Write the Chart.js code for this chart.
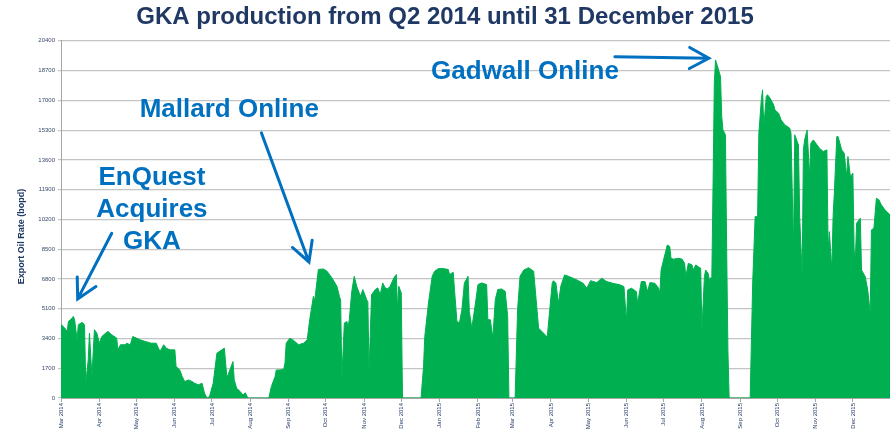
<!DOCTYPE html>
<html>
<head>
<meta charset="utf-8">
<script src="https://cdn.jsdelivr.net/npm/chart.js@4"></script>
<style>
  body { margin: 0; background: #ffffff; }
  canvas { display: block; }
</style>
</head>
<body>
<canvas id="graficaGKA" width="890" height="431"></canvas>
<script>
// dias desde 1 Mar 2014 y tasa de exportacion (bopd)
var dias = [0, 3, 5, 6, 9, 10, 11, 13, 14, 17, 19, 20, 22, 23, 25, 27, 29, 31, 33, 36, 38, 41, 45, 46, 48, 52, 53, 56, 58, 61,
  64, 68, 73, 77, 80, 83, 85, 88, 92, 93, 96, 98, 100, 103, 106, 108, 111, 114, 116, 118, 120, 123, 126, 130, 132, 134, 135, 139, 140, 142,
  145, 147, 149, 151, 168, 170, 173, 174, 177, 180, 181, 182, 185, 188, 192, 196, 199, 201, 204, 205, 208, 212, 215, 219, 223, 225, 226, 227, 229, 231,
  232, 233, 235, 237, 239, 242, 244, 247, 248, 249, 251, 254, 256, 258, 260, 262, 264, 266, 269, 271, 272, 273, 275, 276, 291, 293, 294, 297, 300, 302,
  305, 309, 313, 314, 317, 318, 320, 322, 324, 326, 329, 330, 332, 335, 337, 340, 344, 345, 347, 349, 351, 353, 356, 359, 361, 362, 367, 369, 371, 374,
  378, 382, 384, 386, 390, 393, 395, 397, 398, 400, 402, 404, 407, 411, 417, 422, 425, 428, 433, 437, 441, 446, 452, 455, 457, 458, 461, 465, 466, 469,
  472, 474, 476, 480, 483, 484, 485, 488, 490, 492, 493, 495, 499, 502, 504, 505, 507, 510, 511, 513, 515, 517, 518, 520, 521, 523, 524, 526, 527, 528,
  529, 531, 533, 534, 535, 537, 538, 539, 540, 557, 559, 561, 563, 564, 566, 567, 568, 570, 571, 573, 576, 577, 580, 582, 585, 589, 590, 592, 593, 595,
  596, 597, 599, 600, 601, 603, 605, 606, 608, 611, 613, 616, 619, 620, 621, 623, 624, 625, 627, 628, 631, 633, 635, 636, 638, 640, 641, 642, 643, 646,
  647, 650, 652, 654, 655, 657, 659, 661, 663, 666, 670];
var tasas = [4200, 4000, 3800, 4370, 4560, 4660, 4470, 3320, 4180, 4320, 4180, 840, 2180, 3700, 1220, 3900, 3700, 3130, 3510, 3700, 3800, 3610, 3420, 2750, 3040, 3040, 3130, 3040, 3510, 3420,
  3320, 3230, 3130, 3130, 2650, 3040, 2850, 2750, 2750, 1800, 1600, 1220, 940, 1030, 940, 840, 750, 840, 270, 0, 80, 840, 2560, 2750, 2850, 1220, 1320, 2080, 1030, 550,
  360, 170, 300, 0, 0, 650, 1220, 1600, 1600, 1640, 1990, 3130, 3420, 3290, 3040, 3130, 3320, 4470, 5810, 5520, 7340, 7370, 7240, 6860, 6380, 5810, 5600, 1130, 4280, 4370,
  4090, 4470, 6090, 6950, 6380, 5810, 6190, 5620, 5500, 1510, 5900, 6190, 6290, 5900, 6570, 6290, 6230, 6380, 6860, 7050, 5040, 6380, 6000, 0, 0, 1800, 3510, 5420, 6950, 7240,
  7390, 7390, 7340, 7050, 7180, 6190, 4370, 4280, 5040, 6570, 6950, 4950, 3990, 5420, 6480, 6570, 6480, 4470, 4470, 3420, 5620, 6190, 6230, 6090, 4660, 0, 0, 5040, 6950, 7310,
  7440, 7240, 5620, 3990, 3700, 3480, 5040, 6570, 6700, 6550, 5410, 6400, 7030, 6930, 6740, 6550, 6270, 6700, 6590, 6840, 6650, 6550, 6460, 6360, 4360, 6170, 6270, 6080, 5410, 6650,
  6650, 6080, 6590, 6550, 6270, 5980, 7310, 8170, 8740, 8650, 7980, 7930, 7980, 7930, 7690, 6930, 7690, 7600, 7310, 7600, 7500, 7410, 3890, 6930, 7310, 7120, 6750, 6930, 12270, 17980,
  19310, 18840, 18360, 16070, 15310, 15030, 8460, 2740, 0, 0, 6550, 10360, 10360, 15120, 17030, 17600, 15500, 17220, 17320, 17130, 16740, 16450, 16260, 15880, 15600, 15410, 15120, 8460, 15030, 14650,
  14460, 10360, 7000, 14170, 14740, 15310, 12650, 14550, 14740, 14460, 14260, 14080, 14170, 8460, 9500, 7310, 10360, 11700, 14930, 14930, 14170, 13980, 12650, 13790, 12650, 12840, 8460, 7880, 9980, 10270,
  7310, 6930, 6170, 4840, 9600, 9700, 11410, 11320, 11030, 10740, 10460];

// inicio de cada mes (dias) y sus etiquetas
var diasMes = [0, 31, 61, 92, 122, 153, 184, 214, 245, 275, 306, 337, 365, 396, 426, 457, 487, 518, 549, 579, 610, 640];
var etiquetasMes = ['Mar 2014', 'Apr 2014', 'May 2014', 'Jun 2014', 'Jul 2014', 'Aug 2014', 'Sep 2014', 'Oct 2014', 'Nov 2014', 'Dec 2014',
  'Jan 2015', 'Feb 2015', 'Mar 2015', 'Apr 2015', 'May 2015', 'Jun 2015', 'Jul 2015', 'Aug 2015', 'Sep 2015', 'Oct 2015', 'Nov 2015', 'Dec 2015'];

// notas: texto y flechas ancladas en coordenadas de datos (dia, bopd)
var notas = [
  { lineas: ['EnQuest', 'Acquires', 'GKA'], dia: 73.5, valor: 12580, desde: [41, 9410], hasta: [13.5, 5660] },
  { lineas: ['Mallard Online'], dia: 136, valor: 16460, desde: [162, 15140], hasta: [200.4, 7770] },
  { lineas: ['Gadwall Online'], dia: 375, valor: 18630, desde: [447.7, 19490], hasta: [523.6, 19400] }
];

function crearGraficaGKA() {
    var puntos = [];
    for (var i = 0; i < dias.length; i++) {
        puntos.push({ x: dias[i], y: tasas[i] });
    }

    var notasPlugin = {
        id: 'notas',
        afterDraw: function (chart) {
            var ctx = chart.ctx;
            var sx = chart.scales.x, sy = chart.scales.y;
            ctx.save();

            // titulo del eje Y (algo por debajo del centro, como en el original)
            ctx.fillStyle = '#1F3864';
            ctx.font = 'bold 9px "Liberation Sans", Arial, sans-serif';
            ctx.textAlign = 'center';
            ctx.textBaseline = 'middle';
            ctx.translate(22, (chart.chartArea.top + chart.chartArea.bottom) / 2 + 17);
            ctx.rotate(-Math.PI / 2);
            ctx.fillText('Export Oil Rate (bopd)', 0, 0);
            ctx.setTransform(1, 0, 0, 1, 0, 0);

            ctx.fillStyle = '#0070C0';
            ctx.strokeStyle = '#0070C0';
            ctx.lineWidth = 3;
            ctx.lineCap = 'round';
            ctx.font = 'bold 26px "Liberation Sans", Arial, sans-serif';
            notas.forEach(function (n) {
                var cx = sx.getPixelForValue(n.dia);
                var cy = sy.getPixelForValue(n.valor);
                n.lineas.forEach(function (t, k) {
                    ctx.fillText(t, cx, cy + k * 32);
                });
                var x1 = sx.getPixelForValue(n.desde[0]), y1 = sy.getPixelForValue(n.desde[1]);
                var x2 = sx.getPixelForValue(n.hasta[0]), y2 = sy.getPixelForValue(n.hasta[1]);
                ctx.beginPath();
                ctx.moveTo(x1, y1);
                ctx.lineTo(x2, y2);
                var ang = Math.atan2(y2 - y1, x2 - x1);
                var largo = 22, abre = 0.5;
                ctx.moveTo(x2 - largo * Math.cos(ang - abre), y2 - largo * Math.sin(ang - abre));
                ctx.lineTo(x2, y2);
                ctx.lineTo(x2 - largo * Math.cos(ang + abre), y2 - largo * Math.sin(ang + abre));
                ctx.stroke();
            });
            ctx.restore();
        }
    };

    var ctx = document.getElementById('graficaGKA').getContext('2d');
    var areaChart = new Chart(ctx, {
        type: 'line',
        data: {
            datasets: [{
                data: puntos,
                backgroundColor: '#00B050',
                borderColor: '#00B050',
                borderWidth: 1,
                fill: 'origin',
                pointRadius: 0,
                tension: 0
            }]
        },
        options: {
            responsive: false,
            animation: false,
            layout: { padding: { left: 0, right: 0, top: 0, bottom: 0 } },
            plugins: {
                legend: { display: false },
                tooltip: { enabled: false },
                title: {
                    display: true,
                    text: 'GKA production from Q2 2014 until 31 December 2015',
                    color: '#1F3864',
                    font: { family: '"Liberation Sans", Arial, sans-serif', size: 24, weight: 'bold' },
                    padding: { top: 3, bottom: 9 }
                }
            },
            scales: {
                x: {
                    type: 'linear',
                    min: 0,
                    max: 670,
                    afterBuildTicks: function (s) {
                        s.ticks = diasMes.map(function (d) { return { value: d }; });
                    },
                    afterFit: function (s) { s.height = 33; },
                    grid: { drawOnChartArea: false, color: '#A6A6A6', tickLength: 4 },
                    border: { color: '#A6A6A6' },
                    ticks: {
                        autoSkip: false,
                        minRotation: 90,
                        maxRotation: 90,
                        padding: 1,
                        color: '#1F3864',
                        font: { family: '"Liberation Sans", Arial, sans-serif', size: 6 },
                        callback: function (v) {
                            var k = diasMes.indexOf(v);
                            return k >= 0 ? etiquetasMes[k] : '';
                        }
                    }
                },
                y: {
                    min: 0,
                    max: 20400,
                    afterFit: function (s) { s.width = 61; },
                    grid: { color: '#C4C4C4', lineWidth: 1.2, tickLength: 3 },
                    border: { color: '#A6A6A6' },
                    ticks: {
                        stepSize: 1700,
                        padding: 3,
                        color: '#3A4A6A',
                        font: { family: '"Liberation Sans", Arial, sans-serif', size: 6 },
                        callback: function (v) { return String(v); }
                    }
                }
            }
        },
        plugins: [notasPlugin]
    });
}

crearGraficaGKA();
</script>
</body>
</html>
